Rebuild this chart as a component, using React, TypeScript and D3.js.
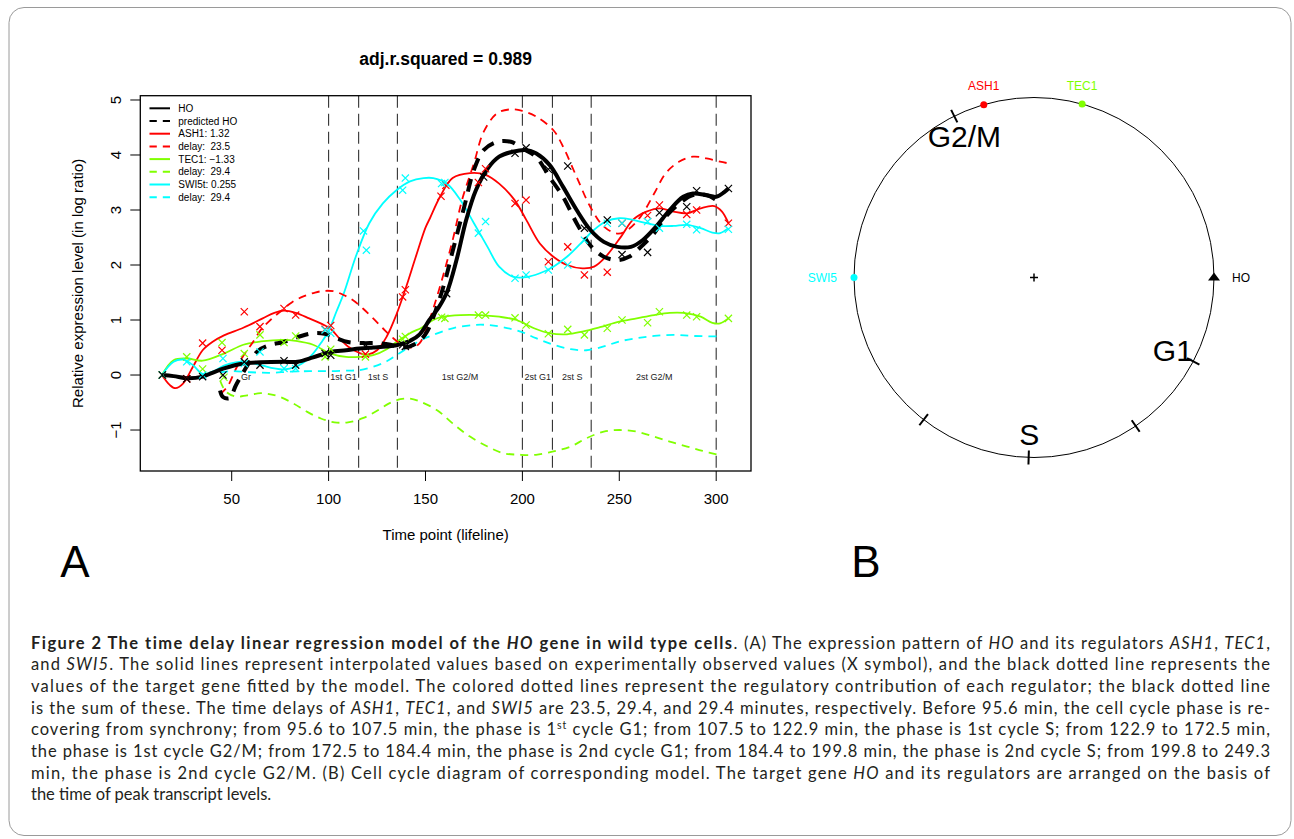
import React from "react";
import * as d3 from "d3";

type P = [number, number];

// ---------- Panel A data ----------
const xTicks = [50, 100, 150, 200, 250, 300];
const yTicks = [-1, 0, 1, 2, 3, 4, 5];
const phaseBoundaries = [100, 115.5, 135.5, 200, 215.5, 235.5, 300];
const phaseLabelTimes = [57.4, 107.7, 125.5, 167.8, 207.9, 225.7, 268];
const phaseLabelTexts = ["Gr", "1st G1", "1st S", "1st G2/M", "2st G1", "2st S", "2st G2/M"];

const hoCurve: P[] = [[14,0],[20,-0.02],[27,-0.06],[35,-0.03],[40,0.04],[46,0.12],[56,0.21],[65,0.23],[77,0.24],[84,0.24],[92,0.32],[101,0.42],[109,0.45],[116,0.48],[123,0.5],[130,0.52],[135,0.54],[142,0.62],[147,0.74],[152,1.0],[157,1.24],[161,1.5],[166,2.09],[171,2.82],[176,3.36],[182,3.75],[188,3.97],[195,4.06],[202,4.09],[207,4.03],[214,3.82],[221,3.42],[228,3.0],[235,2.64],[242,2.42],[249,2.33],[256,2.33],[262,2.45],[269,2.7],[276,3.0],[283,3.24],[288,3.3],[295,3.27],[300,3.24],[304,3.32],[306.3,3.39]];
const hoObs: P[] = [[14.2,0],[26.8,-0.07],[35,-0.03],[45.5,0.0],[56.5,0.24],[64.6,0.18],[77,0.26],[83,0.18],[98.2,0.39],[101.1,0.36],[119,0.52],[138.2,0.55],[139.6,0.52],[160.9,1.48],[180,3.6],[196.2,4.03],[201.9,4.13],[213.4,3.74],[223.4,3.8],[232,2.67],[243.8,2.82],[251.4,2.19],[264.6,2.23],[270.7,2.95],[284.8,3.06],[289.9,3.35],[306.3,3.39]];
const hoPredicted: P[] = [[44,-0.28],[45.5,-0.4],[49,-0.42],[52,-0.2],[56,0.05],[60,0.28],[64,0.45],[70,0.55],[77,0.6],[85,0.7],[92,0.76],[98,0.75],[104,0.67],[110,0.6],[118,0.58],[125,0.58],[132,0.55],[138,0.5],[142,0.52],[147,0.62],[151,0.8],[156,1.25],[160,1.7],[164,2.25],[170,3.06],[175,3.73],[180,4.09],[187,4.24],[194,4.24],[200,4.12],[207,3.97],[214,3.6],[221,3.24],[228,2.76],[235,2.36],[242,2.15],[249,2.09],[255,2.15],[262,2.36],[268,2.58],[274,2.88],[281,3.12],[288,3.27],[295,3.27],[300,3.18]];

const ash1Curve: P[] = [[14,0],[18,-0.18],[21,-0.24],[25,-0.15],[30,0.15],[35,0.45],[40,0.6],[46,0.72],[56,0.86],[66,1.03],[72,1.13],[77,1.17],[83,1.13],[90,1.03],[97,0.92],[101,0.84],[106,0.65],[110,0.52],[116,0.4],[120,0.37],[125,0.45],[130,0.7],[135,1.1],[140,1.6],[145,2.15],[150,2.68],[152.3,2.85],[157.5,3.24],[164,3.58],[173,3.67],[181,3.64],[188,3.48],[196,3.18],[202,2.82],[209,2.39],[216,2.15],[223,2.0],[231,1.94],[237,1.97],[243,2.15],[251,2.52],[257,2.82],[264,2.97],[271,3.03],[278,2.97],[285,2.94],[292,3.03],[299,3.07],[303,2.97],[306.3,2.76]];
const ash1Obs: P[] = [[14.2,0],[26.8,-0.07],[35,0.58],[45,0.45],[56.5,1.15],[64.6,0.88],[77,1.21],[83,1.09],[98.2,0.83],[101.1,0.9],[119,0.38],[138.2,1.42],[139.6,1.55],[158,3.25],[160.5,3.45],[177.3,3.5],[181,3.75],[196.2,3.12],[201.9,3.18],[213.4,2.06],[223.4,2.33],[232,1.82],[243.8,1.87],[251.4,2.76],[264.6,2.9],[270.7,3.09],[284.8,2.92],[289.9,3.0],[306.3,2.76]];
const ash1Delay: P[] = [[44,-0.35],[48,-0.2],[52,0.1],[56,0.35],[61,0.6],[65,0.82],[70,1.0],[75,1.15],[81,1.32],[87,1.43],[93,1.5],[98,1.53],[103,1.52],[108,1.45],[113,1.35],[118,1.2],[123,1.03],[128,0.85],[133,0.68],[138,0.55],[143,0.5],[147,0.58],[152,1.0],[157,1.55],[164,2.45],[169,3.2],[175,3.85],[180,4.42],[187,4.76],[194,4.83],[200,4.8],[207,4.7],[216,4.45],[221,4.15],[228,3.6],[235,3.06],[242,2.7],[249,2.57],[254,2.63],[261,2.88],[268,3.3],[274,3.67],[281,3.88],[288,3.97],[295,3.94],[302,3.88],[306,3.85]];

const tec1Curve: P[] = [[14,0],[20,0.27],[27,0.3],[35,0.26],[46,0.39],[56,0.55],[65,0.61],[77,0.64],[83,0.62],[92,0.55],[101,0.39],[109,0.33],[116,0.33],[123,0.36],[130,0.47],[135,0.6],[142,0.76],[148,0.86],[154,1.0],[159,1.06],[168,1.09],[178,1.09],[188,1.06],[197,1.0],[206,0.85],[214,0.76],[223,0.74],[231,0.79],[240,0.87],[250,0.97],[259,1.03],[268,1.09],[276,1.13],[283,1.13],[292,1.06],[298,0.95],[302,0.94],[306.3,1.03]];
const tec1Obs: P[] = [[14.2,0],[26.8,0.33],[35,0.11],[45,0.59],[46,-0.04],[56.5,0.39],[64.6,0.73],[77,0.59],[83,0.71],[98.2,0.33],[101.1,0.47],[119,0.33],[138.2,0.65],[139.6,0.7],[158.3,1.05],[160,1.03],[177.3,1.09],[181,1.09],[196.2,1.04],[201.9,0.91],[213.4,0.75],[223.4,0.83],[232,0.73],[243.8,0.85],[251.4,1.0],[264.6,0.95],[270.7,1.15],[284.8,1.09],[289.9,1.06],[306.3,1.03]];
const tec1Delay: P[] = [[44,-0.1],[47,-0.3],[52,-0.39],[58,-0.37],[65,-0.33],[70,-0.35],[75,-0.4],[82,-0.52],[89,-0.67],[96,-0.79],[103,-0.86],[110,-0.86],[118,-0.78],[125,-0.65],[131,-0.52],[137,-0.44],[142,-0.43],[147,-0.48],[156,-0.64],[164,-0.88],[173,-1.12],[182,-1.3],[190,-1.42],[199,-1.45],[207,-1.45],[216,-1.39],[225,-1.3],[233,-1.15],[242,-1.03],[250,-1.0],[259,-1.03],[268,-1.12],[276,-1.21],[285,-1.3],[293,-1.38],[301,-1.45]];

const swi5Curve: P[] = [[14,0],[20,0.24],[25,0.28],[30,0.18],[35,0.02],[40,0.06],[46,0.17],[52,0.23],[57,0.24],[65,0.18],[72,0.12],[77,0.1],[83,0.15],[88,0.25],[92,0.39],[96,0.58],[100,0.8],[104,1.15],[108,1.5],[114,2.15],[121,2.76],[128,3.12],[135,3.36],[142,3.52],[149,3.58],[154,3.58],[161,3.48],[168,3.18],[175,2.76],[182,2.33],[188,1.97],[195,1.79],[202,1.78],[209,1.85],[216,1.97],[223,2.15],[230,2.39],[237,2.64],[243,2.79],[250,2.85],[257,2.82],[264,2.76],[271,2.71],[278,2.71],[285,2.73],[292,2.67],[298,2.59],[302,2.58],[306.3,2.67]];
const swi5Obs: P[] = [[14.2,0],[26.8,0.24],[35,0.0],[45.5,0.3],[56.5,0.21],[64.6,0.42],[77,0.12],[83,0.12],[98.2,0.82],[101.1,0.76],[118,2.62],[119.5,2.27],[138.2,3.36],[139.6,3.58],[158.3,3.48],[160,3.5],[177.3,2.58],[181,2.79],[196.2,1.76],[201.9,1.82],[213.4,1.91],[223.4,2.0],[232,2.45],[243.8,2.76],[251.4,2.76],[264.6,2.79],[270.7,2.67],[284.8,2.74],[289.9,2.64],[306.3,2.65]];
const swi5Delay: P[] = [[44,0.05],[50,0.07],[60,0.05],[70,0.04],[80,0.06],[90,0.07],[100,0.07],[110,0.08],[116,0.09],[123,0.15],[130,0.25],[135,0.36],[142,0.52],[148,0.64],[154,0.73],[164,0.85],[175,0.91],[182,0.91],[190,0.87],[199,0.79],[207,0.67],[216,0.55],[225,0.47],[233,0.45],[242,0.52],[250,0.61],[259,0.67],[268,0.71],[278,0.73],[288,0.71],[302,0.7]];

const legendLabels = ["HO", "predicted HO", "ASH1: 1.32", "delay:  23.5", "TEC1: \u22121.33", "delay:  29.4", "SWI5t: 0.255", "delay:  29.4"];
const legendColors = ["#000000", "#000000", "#ff0000", "#ff0000", "#80ff00", "#80ff00", "#00ffff", "#00ffff"];
const legendDashed = [false, true, false, true, false, true, false, true];

// ---------- Panel B data ----------
const geneNames = ["HO", "ASH1", "TEC1", "SWI5"];
const geneAngles = [0, 106.2, 74.5, 180];
const geneColors = ["#000000", "#ff0000", "#80ff00", "#00ffff"];
const geneLabelSide = ["right", "above", "above", "left"];
const phaseTickAngles = [116.3, -27.8, -55.6, -91.7, -127.8];
const phaseNames = ["G2/M", "G1", "", "S", ""];

// ---------- Caption ----------
type Seg = [string, string];
const captionLines: Seg[][] = [
  [["Figure 2 The time delay linear regression model of the ", "b"], ["HO", "bi"], [" gene in wild type cells", "b"], [". (A) The expression pattern of ", "n"], ["HO", "i"], [" and its regulators ", "n"], ["ASH1", "i"], [", ", "n"], ["TEC1", "i"], [",", "n"]],
  [["and ", "n"], ["SWI5", "i"], [". The solid lines represent interpolated values based on experimentally observed values (X symbol), and the black dotted line represents the", "n"]],
  [["values of the target gene fitted by the model. The colored dotted lines represent the regulatory contribution of each regulator; the black dotted line", "n"]],
  [["is the sum of these. The time delays of ", "n"], ["ASH1", "i"], [", ", "n"], ["TEC1", "i"], [", and ", "n"], ["SWI5", "i"], [" are 23.5, 29.4, and 29.4 minutes, respectively. Before 95.6 min, the cell cycle phase is re-", "n"]],
  [["covering from synchrony; from 95.6 to 107.5 min, the phase is 1", "n"], ["st", "sup"], [" cycle G1; from 107.5 to 122.9 min, the phase is 1st cycle S; from 122.9 to 172.5 min,", "n"]],
  [["the phase is 1st cycle G2/M; from 172.5 to 184.4 min, the phase is 2nd cycle G1; from 184.4 to 199.8 min, the phase is 2nd cycle S; from 199.8 to 249.3", "n"]],
  [["min, the phase is 2nd cycle G2/M. (B) Cell cycle diagram of corresponding model. The target gene ", "n"], ["HO", "i"], [" and its regulators are arranged on the basis of", "n"]],
  [["the time of peak transcript levels.", "n"]],
];

const RFONT = "'Liberation Sans', Arial, Helvetica, sans-serif";

export default function App() {
  const x = d3.scaleLinear().domain([2.84, 317.96]).range([140.3, 751]);
  const y = d3.scaleLinear().domain([-1.745, 5.078]).range([471, 95.7]);
  const line = d3
    .line<P>()
    .x((d) => x(d[0]))
    .y((d) => y(d[1]))
    .curve(d3.curveCatmullRom.alpha(0.5));

  const [x0, x1] = x.range();
  const [yb, yt] = y.range();

  const markerPath = (s: number) => `M${-s},${-s}L${s},${s}M${-s},${s}L${s},${-s}`;
  const marks = (obs: P[], color: string, key: string) =>
    obs.map((d, i) => (
      <path key={key + i} d={markerPath(3.6)} transform={`translate(${x(d[0])},${y(d[1])})`} stroke={color} strokeWidth={1.2} fill="none" />
    ));

  // circle diagram
  const cx = 1034, cy = 277.5, R = 180;
  const rad = d3.scaleLinear().domain([0, 360]).range([0, 2 * Math.PI]);
  const polar = (deg: number, r: number): P => {
    const p = d3.pointRadial(Math.PI / 2 - rad(deg), r);
    return [cx + p[0], cy + p[1]];
  };

  const styleOf = (s: string): any => {
    if (s === "b") return { fontWeight: 700, letterSpacing: 0.35 };
    if (s === "bi") return { fontWeight: 700, fontStyle: "italic", letterSpacing: 0.35 };
    if (s === "i") return { fontStyle: "italic" };
    if (s === "sup") return { fontSize: 10.5, baselineShift: "super" };
    return {};
  };

  return (
    <svg width={1294} height={839} style={{ position: "absolute", left: 0, top: 0, display: "block", background: "#fff" }}>
      <rect x={9} y={7.5} width={1282} height={828} rx={15} ry={15} fill="none" stroke="#9a9a9a" strokeWidth={1} />

      {/* Title */}
      <text x={(x0 + x1) / 2} y={65} textAnchor="middle" fontFamily={RFONT} fontWeight={700} fontSize={17.5}>adj.r.squared = 0.989</text>

      {/* phase boundaries */}
      {phaseBoundaries.map((t, i) => (
        <line key={"pb" + i} x1={x(t)} x2={x(t)} y1={yt} y2={yb} stroke="#333" strokeWidth={1.1} strokeDasharray="12,6" />
      ))}
      {phaseLabelTimes.map((t, i) => (
        <text key={"pl" + i} x={x(t)} y={379.5} textAnchor="middle" fontFamily={RFONT} fontSize={9} fill="#222">{phaseLabelTexts[i]}</text>
      ))}

      {/* solid colored lines */}
      <path d={line(ash1Curve) || ""} fill="none" stroke="#ff0000" strokeWidth={1.8} />
      <path d={line(tec1Curve) || ""} fill="none" stroke="#80ff00" strokeWidth={1.8} />
      <path d={line(swi5Curve) || ""} fill="none" stroke="#00ffff" strokeWidth={1.8} />
      {/* dashed contributions */}
      <path d={line(ash1Delay) || ""} fill="none" stroke="#ff0000" strokeWidth={1.8} strokeDasharray="8,6" />
      <path d={line(tec1Delay) || ""} fill="none" stroke="#80ff00" strokeWidth={1.8} strokeDasharray="8,6" />
      <path d={line(swi5Delay) || ""} fill="none" stroke="#00ffff" strokeWidth={1.8} strokeDasharray="8,6" />
      {/* HO */}
      <path d={line(hoCurve) || ""} fill="none" stroke="#000" strokeWidth={4} />
      <path d={line(hoPredicted) || ""} fill="none" stroke="#000" strokeWidth={4} strokeDasharray="13,9" />

      {marks(ash1Obs, "#ff0000", "ma")}
      {marks(tec1Obs, "#80ff00", "mt")}
      {marks(swi5Obs, "#00ffff", "ms")}
      {marks(hoObs, "#000000", "mh")}

      {/* plot box */}
      <rect x={x0} y={yt} width={x1 - x0} height={yb - yt} fill="none" stroke="#000" strokeWidth={1.3} />

      {/* x axis */}
      {xTicks.map((t, i) => (
        <g key={"xt" + i}>
          <line x1={x(t)} x2={x(t)} y1={yb} y2={yb + 10} stroke="#000" strokeWidth={1} />
          <text x={x(t)} y={504} textAnchor="middle" fontFamily={RFONT} fontSize={15}>{t}</text>
        </g>
      ))}
      <text x={(x0 + x1) / 2} y={540} textAnchor="middle" fontFamily={RFONT} fontSize={15}>Time point (lifeline)</text>

      {/* y axis */}
      {yTicks.map((v, i) => (
        <g key={"yt" + i}>
          <line x1={x0 - 10} x2={x0} y1={y(v)} y2={y(v)} stroke="#000" strokeWidth={1} />
          <text transform={`translate(121,${y(v)}) rotate(-90)`} textAnchor="middle" fontFamily={RFONT} fontSize={15}>{v < 0 ? "\u2212" + Math.abs(v) : v}</text>
        </g>
      ))}
      <text transform={`translate(83,${(yt + yb) / 2}) rotate(-90)`} textAnchor="middle" fontFamily={RFONT} fontSize={15}>Relative expression level (in log ratio)</text>

      {/* legend */}
      {legendLabels.map((lab, i) => {
        const ly = 108.3 + i * 12.7;
        return (
          <g key={"lg" + i}>
            <line x1={149.5} x2={170} y1={ly} y2={ly} stroke={legendColors[i]} strokeWidth={2} strokeDasharray={legendDashed[i] ? "7.3,6" : undefined} />
            <text x={178.3} y={ly + 3.6} fontFamily={RFONT} fontSize={10} style={{ whiteSpace: "pre" }}>{lab}</text>
          </g>
        );
      })}

      {/* Panel letters */}
      <text x={75} y={577} textAnchor="middle" fontFamily={RFONT} fontSize={44}>A</text>
      <text x={866} y={577} textAnchor="middle" fontFamily={RFONT} fontSize={44}>B</text>

      {/* Panel B: cell cycle circle */}
      <circle cx={cx} cy={cy} r={R} fill="none" stroke="#000" strokeWidth={1} />
      <line x1={cx - 4} x2={cx + 4} y1={cy} y2={cy} stroke="#000" strokeWidth={1.5} />
      <line x1={cx} x2={cx} y1={cy - 4} y2={cy + 4} stroke="#000" strokeWidth={1.5} />
      {phaseTickAngles.map((a, i) => {
        const p0 = polar(a, R - 7);
        const p1 = polar(a, R + 7);
        const pl = polar(a, 157);
        return (
          <g key={"pt" + i}>
            <line x1={p0[0]} y1={p0[1]} x2={p1[0]} y2={p1[1]} stroke="#000" strokeWidth={2} />
            {phaseNames[i] && (
              <text x={pl[0]} y={pl[1]} textAnchor="middle" dominantBaseline="central" fontFamily={RFONT} fontSize={30}>{phaseNames[i]}</text>
            )}
          </g>
        );
      })}
      {geneNames.map((g, i) => {
        const p = polar(geneAngles[i], R);
        const side = geneLabelSide[i];
        const lx = side === "right" ? p[0] + 18 : side === "left" ? p[0] - 17 : p[0];
        const ly = side === "above" ? p[1] - 18.5 : p[1];
        const anchor = side === "right" ? "start" : side === "left" ? "end" : "middle";
        return (
          <g key={"gn" + i}>
            {g === "HO" ? (
              <path d={`M${p[0] - 6},${p[1] + 3}L${p[0] + 6},${p[1] + 3}L${p[0]},${p[1] - 5}Z`} fill="#000" />
            ) : (
              <circle cx={p[0]} cy={p[1]} r={3.5} fill={geneColors[i]} />
            )}
            <text x={lx} y={ly} textAnchor={anchor} dominantBaseline="central" fontFamily={RFONT} fontSize={12} fill={geneColors[i]}>{g}</text>
          </g>
        );
      })}

      {/* Caption */}
      {captionLines.map((segs, i) => {
        const last = i === captionLines.length - 1;
        return (
          <text key={"cap" + i} x={31} y={648.5 + i * 21.7} fontFamily="Lato, 'Open Sans', sans-serif" fontSize={16.5} fill="#231f20"
            {...(last ? {} : { textLength: 1239, lengthAdjust: "spacing" })}>
            {segs.map((s, j) => (
              <tspan key={j} {...styleOf(s[1])}>{s[0]}</tspan>
            ))}
          </text>
        );
      })}
    </svg>
  );
}
